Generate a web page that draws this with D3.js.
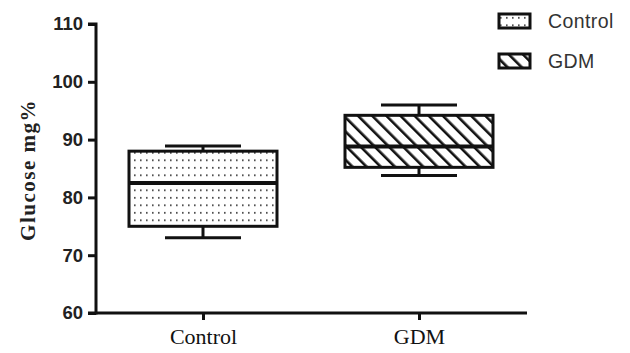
<!DOCTYPE html>
<html><head><meta charset="utf-8">
<script src="https://cdn.jsdelivr.net/npm/d3@7"></script>
<style>body{margin:0;background:#fff}svg{display:block}</style>
</head><body>
<script>
const categories = ["Control", "GDM"];
const whiskerLow = [73, 83.8];
const q1 = [75, 85.2];
const median = [82.5, 88.8];
const q3 = [88, 94.2];
const whiskerHigh = [88.9, 96];
const yTicks = [60, 70, 80, 90, 100, 110];

const W = 630, H = 353;
const svg = d3.select("body").append("svg").attr("width", W).attr("height", H);
const defs = svg.append("defs");
const dots = defs.append("pattern").attr("id","dots").attr("patternUnits","userSpaceOnUse")
  .attr("width",6).attr("height",7.5);
dots.append("rect").attr("x",2).attr("y",2).attr("width",1.6).attr("height",1.6).attr("fill","#333");
const hatch = defs.append("pattern").attr("id","hatch").attr("patternUnits","userSpaceOnUse")
  .attr("width",10).attr("height",10).attr("patternTransform","rotate(-45)");
hatch.append("rect").attr("x",0).attr("y",0).attr("width",2.6).attr("height",10).attr("fill","#111");

const y = d3.scaleLinear().domain([60,110]).range([313,24]);

// axes
const yAxis = d3.axisLeft(y).tickValues(yTicks).tickSize(8).tickPadding(5);
const gy = svg.append("g").attr("transform","translate(96,0)").call(yAxis);
gy.select(".domain").attr("stroke","#111").attr("stroke-width",3).attr("d","M-8,24H0V313H-8");
gy.selectAll(".tick line").attr("stroke","#111").attr("stroke-width",3);
gy.selectAll(".tick text").attr("font-family","Liberation Sans, Arial, sans-serif")
  .attr("font-weight","bold").attr("font-size",18.5).attr("fill","#222");

const xs = d3.scalePoint().domain(categories).range([203,419]);
const xAxis = d3.axisBottom(xs).tickSize(7).tickPadding(8);
const gx = svg.append("g").attr("transform","translate(0,313)").call(xAxis);
gx.select(".domain").attr("stroke","#111").attr("stroke-width",3).attr("d","M96,0H527");
gx.selectAll(".tick line").attr("stroke","#111").attr("stroke-width",3);
gx.selectAll(".tick text").attr("font-family","Liberation Serif, Times New Roman, serif")
  .attr("font-size",22).attr("fill","#111");

svg.append("text").attr("transform","translate(35,170) rotate(-90)").attr("text-anchor","middle")
  .attr("font-family","Liberation Serif, Times New Roman, serif").attr("font-weight","bold")
  .attr("font-size",21).attr("letter-spacing",1.5).attr("fill","#222").text("Glucose mg%");

const fills = ["url(#dots)","url(#hatch)"];
const boxW = 148, capW = 76;
categories.forEach((c,i) => {
  const cx = xs(c);
  const g = svg.append("g").attr("stroke","#111").attr("stroke-width",3);
  g.append("line").attr("x1",cx).attr("x2",cx).attr("y1",y(whiskerHigh[i])).attr("y2",y(q3[i]));
  g.append("line").attr("x1",cx).attr("x2",cx).attr("y1",y(whiskerLow[i])).attr("y2",y(q1[i]));
  g.append("line").attr("x1",cx-capW/2).attr("x2",cx+capW/2).attr("y1",y(whiskerHigh[i])).attr("y2",y(whiskerHigh[i]));
  g.append("line").attr("x1",cx-capW/2).attr("x2",cx+capW/2).attr("y1",y(whiskerLow[i])).attr("y2",y(whiskerLow[i]));
  g.append("rect").attr("x",cx-boxW/2).attr("width",boxW).attr("y",y(q3[i])).attr("height",y(q1[i])-y(q3[i]))
    .attr("fill",fills[i]);
  g.append("line").attr("x1",cx-boxW/2).attr("x2",cx+boxW/2).attr("y1",y(median[i])).attr("y2",y(median[i])).attr("stroke-width",4);
});

// legend
const lg = svg.append("g");
categories.forEach((c,i) => {
  const yy = 21 + i*40;
  lg.append("rect").attr("x",499).attr("y",yy-7).attr("width",31).attr("height",14)
    .attr("fill",fills[i]).attr("stroke","#111").attr("stroke-width",3);
  lg.append("text").attr("x",548).attr("y",yy+7).attr("font-family","Liberation Sans, Arial, sans-serif")
    .attr("font-size",19.5).attr("letter-spacing",0.4).attr("fill","#333").text(c);
});
</script>
</body></html>
